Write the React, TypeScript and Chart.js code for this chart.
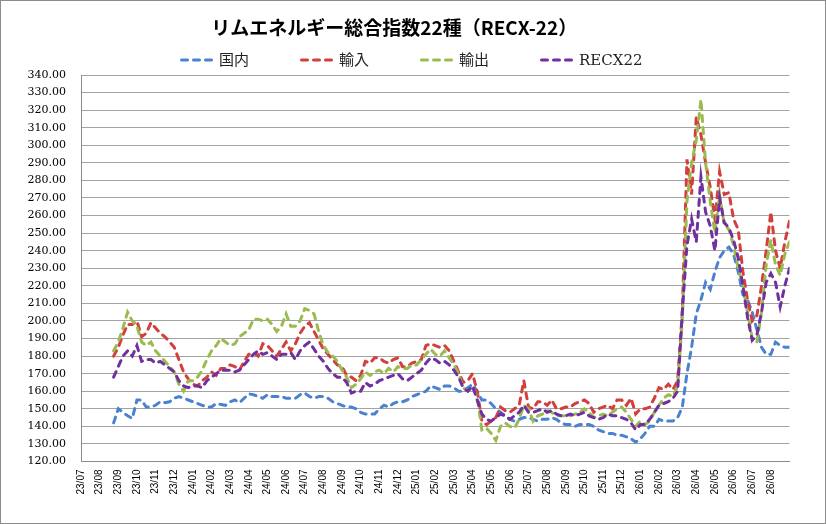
import React, { useEffect, useRef } from "react";
import { Chart, ChartConfiguration, registerables } from "chart.js";

Chart.register(...registerables);

const chartTitle = "リムエネルギー総合指数22種（RECX-22）";
const seriesNames = ["国内", "輸入", "輸出", "RECX22"];
const seriesColors = ["#4a82d0", "#d23f3c", "#9bbb4f", "#7030a0"];

// month ticks, 0 = 23/07
const monthLabels = [
	"23/07", "23/08", "23/09", "23/10", "23/11", "23/12",
	"24/01", "24/02", "24/03", "24/04", "24/05", "24/06",
	"24/07", "24/08", "24/09", "24/10", "24/11", "24/12",
	"25/01", "25/02", "25/03", "25/04", "25/05", "25/06",
	"25/07", "25/08", "25/09", "25/10", "25/11", "25/12",
	"26/01", "26/02", "26/03", "26/04", "26/05", "26/06",
	"26/07", "26/08",
];
const yTicks = { min: 120, max: 340, step: 10 };

// observations every quarter month, first one in late 23/08
const firstObs = 1.75;
const obsStep = 0.25;

const domestic = [
	142,
	150, 148, 146, 144.5, // 23/09
	155, 155, 151, 151, // 23/10
	152, 154, 153.5, 154, // 23/11
	156, 157, 156, 155, // 23/12
	154, 153, 152, 151, // 24/01
	151, 153, 152.5, 152, // 24/02
	154, 155, 153.5, 156, // 24/03
	158.5, 158, 157, 156, // 24/04
	158, 157, 157, 157, // 24/05
	156, 156, 156, 158, // 24/06
	159, 157, 156, 157, // 24/07
	157, 156, 154, 153, // 24/08
	152, 151, 151, 150, // 24/09
	148, 147, 147, 147, // 24/10
	150, 152, 151, 153, // 24/11
	154, 154, 155, 157, // 24/12
	158, 159, 160, 163, // 25/01
	162, 161, 163, 163, // 25/02
	162, 160, 160, 162, // 25/03
	164, 160, 155, 155, // 25/04
	153, 150, 148, 146, // 25/05
	144, 143, 144, 145, // 25/06
	145, 144, 143, 144, // 25/07
	144, 145, 144, 142, // 25/08
	141, 141, 140, 141, // 25/09
	141, 141, 140, 138, // 25/10
	137, 136, 136, 135, // 25/11
	135, 134, 133, 131, // 25/12
	133, 136, 140, 140, // 26/01
	144, 143, 143, 143, // 26/02
	145, 151, 170, 185, // 26/03
	204, 212, 222, 218, // 26/04
	228, 236, 240, 242, // 26/05
	238, 228, 215, 212, // 26/06
	205, 195, 185, 181, // 26/07
	181, 188, 186, 185, // 26/08
	185,
];

const imports = [
	180,
	185, 192, 198, 198, // 23/09
	200, 191, 193, 199, // 23/10
	196, 193, 191, 188, // 23/11
	185, 178, 171, 167, // 23/12
	164, 163, 166, 168, // 24/01
	171, 169, 173, 173, // 24/02
	175, 174, 172, 177, // 24/03
	181, 182, 180, 187, // 24/04
	186, 183, 180, 184, // 24/05
	188, 183, 187, 193, // 24/06
	197, 199, 194, 189, // 24/07
	184, 181, 178, 175, // 24/08
	174, 169, 168, 166, // 24/09
	169, 177, 176, 179, // 24/10
	179, 177, 176, 178, // 24/11
	179, 174, 174, 176, // 24/12
	177, 178, 186, 187, // 25/01
	186, 185, 186, 183, // 25/02
	177, 171, 165, 166, // 25/03
	170, 160, 143, 141, // 25/04
	143, 145, 151, 149, // 25/05
	148, 150, 152, 166, // 25/06
	151, 150, 154, 154, // 25/07
	152, 155, 150, 150, // 25/08
	151, 151, 153, 154, // 25/09
	155, 153, 148, 150, // 25/10
	151, 152, 150, 155, // 25/11
	155, 152, 156, 147, // 25/12
	150, 150, 151, 156, // 26/01
	162, 161, 164, 161, // 26/02
	166, 205, 292, 272, // 26/03
	316, 306, 290, 276, // 26/04
	258, 285, 272, 273, // 26/05
	258, 252, 228, 212, // 26/06
	200, 203, 220, 240, // 26/07
	262, 240, 230, 245, // 26/08
	257,
];

const exportsIdx = [
	183,
	188, 196, 205, 200, // 23/09
	197, 188, 186, 188, // 23/10
	183, 180, 177, 174, // 23/11
	171, 164, 160, 166, // 23/12
	166, 168, 172, 178, // 24/01
	183, 186, 190, 188, // 24/02
	186, 187, 191, 193, // 24/03
	195, 201, 201, 200, // 24/04
	201, 198, 194, 197, // 24/05
	204, 197, 197, 200, // 24/06
	207, 206, 204, 194, // 24/07
	186, 182, 180, 177, // 24/08
	172, 168, 162, 164, // 24/09
	167, 171, 169, 171, // 24/10
	172, 170, 173, 171, // 24/11
	174, 173, 173, 175, // 24/12
	175, 178, 181, 184, // 25/01
	181, 180, 183, 179, // 25/02
	175, 170, 162, 160, // 25/03
	162, 157, 138, 139, // 25/04
	136, 132, 140, 142, // 25/05
	140, 139, 144, 152, // 25/06
	150, 143, 146, 147, // 25/07
	149, 148, 146, 146, // 25/08
	146, 146, 147, 148, // 25/09
	150, 148, 145, 146, // 25/10
	147, 146, 148, 150, // 25/11
	151, 148, 144, 140, // 25/12
	143, 141, 143, 148, // 26/01
	152, 156, 158, 157, // 26/02
	163, 200, 268, 290, // 26/03
	303, 326, 290, 268, // 26/04
	250, 272, 255, 252, // 26/05
	243, 230, 220, 205, // 26/06
	190, 188, 205, 232, // 26/07
	246, 232, 226, 238, // 26/08
	245,
];

const recx22 = [
	168,
	174, 180, 183, 180, // 23/09
	186, 177, 178, 178, // 23/10
	176, 177, 175, 173, // 23/11
	171, 166, 163, 162, // 23/12
	163, 163, 162, 166, // 24/01
	168, 170, 172, 172, // 24/02
	172, 171, 172, 175, // 24/03
	178, 181, 183, 181, // 24/04
	182, 180, 178, 181, // 24/05
	181, 182, 178, 183, // 24/06
	186, 188, 184, 180, // 24/07
	177, 173, 170, 168, // 24/08
	168, 165, 159, 160, // 24/09
	160, 165, 163, 164, // 24/10
	166, 167, 168, 169, // 24/11
	170, 167, 166, 168, // 24/12
	170, 172, 176, 179, // 25/01
	178, 176, 177, 175, // 25/02
	172, 168, 162, 160, // 25/03
	163, 155, 147, 144, // 25/04
	143, 145, 147, 146, // 25/05
	144, 146, 148, 152, // 25/06
	148, 148, 149, 150, // 25/07
	148, 149, 147, 146, // 25/08
	146, 147, 146, 147, // 25/09
	148, 146, 145, 144, // 25/10
	145, 147, 146, 146, // 25/11
	145, 144, 142, 138, // 25/12
	141, 141, 144, 148, // 26/01
	152, 153, 154, 156, // 26/02
	160, 205, 243, 258, // 26/03
	245, 282, 262, 254, // 26/04
	240, 270, 256, 253, // 26/05
	246, 236, 220, 202, // 26/06
	189, 192, 205, 222, // 26/07
	227, 222, 208, 220, // 26/08
	230,
];

const seriesValues = [domestic, imports, exportsIdx, recx22];

// title in the original sits a little left of the centre
const titleNudge = {
	id: "titleNudge",
	afterLayout(chart: any) {
		const t = chart.titleBlock;
		if (t) {
			t.left -= 14;
			t.right -= 14;
		}
	},
};

// Excel style legend: equal pitch per entry, dashed sample then label
const legendBox = { left: 179, y: 59, pitch: 120, sample: 34, gap: 5 };
const dashLegend = {
	id: "dashLegend",
	afterDraw(chart: any) {
		const { ctx } = chart;
		ctx.save();
		ctx.font = "15px 'DejaVu Serif', 'Noto Sans CJK JP', serif";
		ctx.textBaseline = "middle";
		ctx.textAlign = "left";
		chart.data.datasets.forEach((ds: any, i: number) => {
			const x = legendBox.left + i * legendBox.pitch;
			const half = ds.borderWidth / 2;
			ctx.strokeStyle = ds.borderColor;
			ctx.lineWidth = ds.borderWidth;
			ctx.lineCap = ds.borderCapStyle;
			ctx.setLineDash(ds.borderDash);
			ctx.beginPath();
			ctx.moveTo(x + half, legendBox.y);
			ctx.lineTo(x + legendBox.sample - half, legendBox.y);
			ctx.stroke();
			ctx.setLineDash([]);
			ctx.fillStyle = "#222";
			ctx.fillText(ds.label, x + legendBox.sample + legendBox.gap, legendBox.y + 1);
		});
		ctx.restore();
	},
};

const App: React.FC = () => {
	const canvasRef = useRef<HTMLCanvasElement | null>(null);
	const chart = useRef<Chart | null>(null);

	useEffect(() => {
		if (!canvasRef.current) return;
		const ctx = canvasRef.current.getContext("2d");
		if (!ctx) return;

		const datasets = seriesNames.map((name, i) => ({
			label: name,
			data: seriesValues[i].map((v, j) => ({ x: firstObs + j * obsStep, y: v })),
			borderColor: seriesColors[i],
			backgroundColor: seriesColors[i],
			borderWidth: 3,
			borderDash: [6, 6],
			borderCapStyle: "round",
			pointRadius: 0,
			fill: false,
			tension: 0,
			order: seriesNames.length - i,
		}));

		const config = {
			type: "line",
			data: { datasets },
			options: {
				animation: false,
				responsive: false,
				layout: { padding: { top: 3.5, left: 26, right: 35.5, bottom: 28.5 } },
				plugins: {
					tooltip: { enabled: false },
					legend: { display: false },
					title: {
						display: true,
						text: chartTitle,
						color: "#000",
						font: { family: "'Noto Sans CJK JP', sans-serif", size: 19, weight: "bold" },
						padding: { top: 11.6, bottom: 36.1 },
					},
				},
				scales: {
					x: {
						type: "linear",
						min: 0,
						max: monthLabels.length,
						afterFit: (s: any) => {
							s.height = 33;
						},
						grid: { display: false, drawTicks: false },
						border: { display: true, color: "#8c8c8c" },
						ticks: {
							stepSize: 1,
							autoSkip: false,
							maxRotation: 90,
							minRotation: 90,
							padding: 8,
							color: "#000",
							font: { family: "'Liberation Sans', Arial, sans-serif", size: 10 },
							callback: (v: any) => monthLabels[v] ?? "",
						},
					},
					y: {
						min: yTicks.min,
						max: yTicks.max,
						afterFit: (s: any) => {
							s.width = 54;
						},
						grid: { color: "#a3a3a3", drawTicks: false },
						border: { display: true, color: "#8c8c8c" },
						ticks: {
							stepSize: yTicks.step,
							padding: 15,
							color: "#000",
							font: { family: "'DejaVu Serif', serif", size: 11 },
							callback: (v: any) => Number(v).toFixed(2),
						},
					},
				},
			},
			plugins: [titleNudge, dashLegend],
		} as unknown as ChartConfiguration;

		chart.current = new Chart(ctx, config);

		return () => {
			if (chart.current) {
				chart.current.destroy();
				chart.current = null;
			}
		};
	}, []);

	return (
		<div
			style={{
				position: "fixed",
				left: 0,
				top: 0,
				width: 826,
				height: 524,
				boxSizing: "border-box",
				border: "1px solid #8c8c8c",
				background: "#fff",
			}}
		>
			<canvas ref={canvasRef} width={824} height={522} style={{ display: "block" }} />
		</div>
	);
};

export default App;
